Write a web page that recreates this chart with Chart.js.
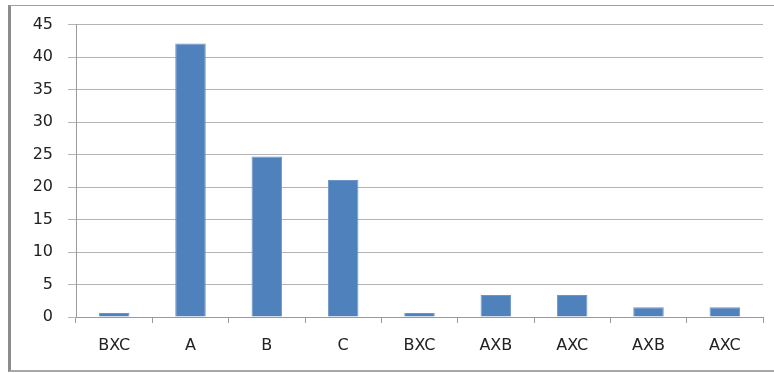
<!DOCTYPE html>
<html>
<head>
<meta charset="utf-8">
<script src="https://cdn.jsdelivr.net/npm/chart.js@4"></script>
<style>
  html, body { margin: 0; padding: 0; background: #fff; }
  #frame {
    position: absolute; left: 8px; top: 5px; width: 766px; height: 364px;
    border-top: 1px solid #a0a0a0; border-left: 3px solid #8c8c8c; border-bottom: 2px solid #a8a8a8;
  }
  #wrap { position: absolute; left: 0; top: 0; width: 774px; height: 373px; }
</style>
</head>
<body>
<div id="frame"></div>
<div id="wrap"><canvas id="chart"></canvas></div>
<script>
// categories and values
const categories = ['BXC', 'A', 'B', 'C', 'BXC', 'AXB', 'AXC', 'AXB', 'AXC'];
const values = [0.6, 42.1, 24.7, 21.1, 0.6, 3.4, 3.4, 1.5, 1.5];
const yTicks = [0, 5, 10, 15, 20, 25, 30, 35, 40, 45];

const ctx = document.getElementById('chart');
new Chart(ctx, {
    type: 'bar',
    data: {
        labels: categories,
        datasets: [{
            data: values,
            backgroundColor: '#4f81bd',
            borderColor: '#6a95c8',
            borderWidth: 1,
            barPercentage: 0.4,
            categoryPercentage: 1
        }]
    },
    options: {
        responsive: true, maintainAspectRatio: false, animation: false,
        layout: { padding: { left: 0, right: 11, top: 24, bottom: 0 } },
        plugins: { legend: { display: false }, tooltip: { enabled: false } },
        scales: {
            x: {
                grid: { offset: true, drawOnChartArea: false, drawTicks: true, tickLength: 6, color: '#9a9a9a' },
                border: { color: '#9a9a9a' },
                ticks: { color: '#222', padding: 13, font: { family: 'DejaVu Sans', size: 16 } },
                afterFit: s => { s.height = 56; }
            },
            y: {
                min: 0, max: 45,
                afterBuildTicks: s => { s.ticks = yTicks.map(v => ({ value: v })); },
                grid: { color: '#b4b4b4', tickLength: 8 },
                border: { color: '#9a9a9a' },
                ticks: { color: '#222', padding: 15, font: { family: 'DejaVu Sans', size: 16 } },
                afterFit: s => { s.width = 76; }
            }
        }
    }
});
</script>
</body>
</html>
